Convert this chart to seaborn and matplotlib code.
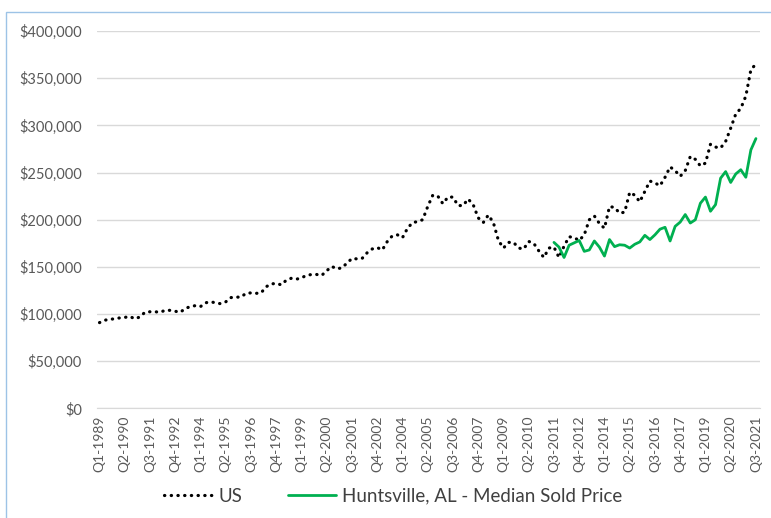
import pandas as pd
import matplotlib.pyplot as plt
import matplotlib.ticker as mticker
from matplotlib.patches import Rectangle
import seaborn as sns

# ---------------------------
# Quarterly median sold price (Q1-1989 .. Q3-2021)
# ---------------------------
quarters = [f"Q{q}-{y}" for y in range(1989, 2022) for q in range(1, 5)][:131]

us_price = [
    91000, 93500, 94500, 95000, 96000, 96500, 97500, 95000, 97000, 102000,
    102500, 102500, 102000, 104000, 104000, 103000, 102000, 106000, 108000, 109000,
    108000, 112000, 113000, 112000, 111000, 113000, 117500, 118000, 118000, 122000,
    122500, 122000, 122500, 129000, 132000, 132500, 131000, 136000, 138000, 137000,
    138500, 141000, 142000, 142000, 141000, 146000, 150500, 148000, 149000, 154000,
    159000, 158500, 159000, 165000, 169000, 170500, 168000, 177000, 183000, 184000,
    181000, 191000, 197000, 198000, 200000, 214000, 226000, 225000, 217000, 224000,
    224000, 215000, 215000, 222000, 216000, 202000, 197000, 205000, 197000, 178000,
    170000, 176000, 176000, 170000, 169000, 177000, 175000, 167000, 160000, 170000,
    171000, 160000, 172000, 182000, 181000, 178000, 184000, 200000, 204000, 196000,
    191000, 214000, 213000, 207000, 208000, 229000, 226000, 219000, 230000, 241000,
    239000, 236000, 245000, 256000, 252000, 246000, 252000, 267000, 264000, 257000,
    260000, 280000, 277000, 276000, 283000, 297000, 312000, 318000, 331000, 359000,
    365000,
]

# Huntsville series starts at Q3-2011
hsv_start = 90
hsv_price = [
    176000, 171000, 160000, 173000, 175500, 178000, 166500, 168000, 177500, 171000,
    161500, 179000, 171500, 173500, 173000, 170000, 174000, 176500, 183500, 179000,
    184000, 190000, 192000, 177500, 193000, 197500, 205500, 196500, 200000, 217500,
    224000, 209000, 216000, 244000, 251000, 239500, 248500, 253000, 245000, 274000,
    286000,
]

df = pd.DataFrame({"idx": range(len(quarters)), "quarter": quarters, "US": us_price})
df["Huntsville"] = [None] * hsv_start + hsv_price
df["Huntsville"] = df["Huntsville"].astype(float)

sns.set_style("white")
plt.rcParams["font.family"] = ["Lato", "DejaVu Sans"]

fig = plt.figure(figsize=(7.71, 5.18), dpi=100)
ax = fig.add_axes([0.1258, 0.2114, 0.8599, 0.7288])

sns.lineplot(data=df, x="idx", y="US", ax=ax, color="black", lw=2.3,
             label="US")
sns.lineplot(data=df, x="idx", y="Huntsville", ax=ax, color="#00B050", lw=2.0,
             label="Huntsville, AL - Median Sold Price")
us_line = ax.lines[0]
us_line.set_linestyle((0, (0.1, 2.0)))
us_line.set_dash_capstyle("round")

ax.set_xlim(-0.5, 130.8)
ax.set_ylim(0, 400000)
ax.set_yticks(range(0, 400001, 50000))
ax.yaxis.set_major_formatter(mticker.FuncFormatter(lambda v, p: f"${v:,.0f}"))
ax.set_xticks(df["idx"][::5])
ax.set_xticklabels(df["quarter"][::5], rotation=90)
ax.tick_params(axis="both", colors="#595959", length=0)
ax.tick_params(axis="y", labelsize=10.5, pad=11)
ax.tick_params(axis="x", labelsize=10, pad=5)
ax.set_xlabel("")
ax.set_ylabel("")

ax.grid(axis="y", color="#D9D9D9", lw=1)
for s in ["top", "right", "left"]:
    ax.spines[s].set_visible(False)
ax.spines["bottom"].set_color("#D9D9D9")

handles, labels = ax.get_legend_handles_labels()
ax.legend(handles, labels, loc="center", bbox_to_anchor=(0.51, 0.042),
          bbox_transform=fig.transFigure, ncol=2, frameon=False,
          fontsize=13.5, handlelength=2.6, handletextpad=0.3,
          columnspacing=2.4, labelcolor="#404040")

# light blue chart border
fig.patches.append(Rectangle((6 / 771, -0.1), 1.2, 1 - 12 / 518 + 0.1,
                             transform=fig.transFigure, fill=False,
                             edgecolor="#9DC3E6", lw=1))

fig.savefig("out.png", dpi=100)
